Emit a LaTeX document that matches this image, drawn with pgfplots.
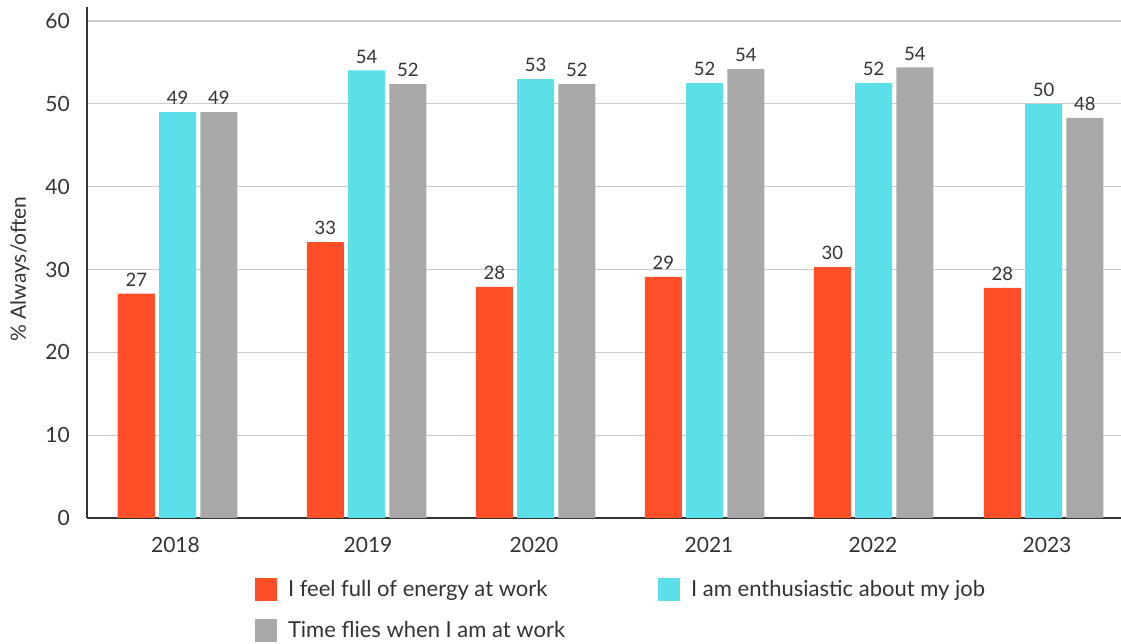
\documentclass[border=0pt]{standalone}
\usepackage{fontspec}
\setmainfont{Lato}
\usepackage{pgfplots}
\usepackage{pgfplotstable}
\pgfplotsset{compat=1.18}
\definecolor{cred}{HTML}{FF4E28}
\definecolor{ccyan}{HTML}{5BDFE8}
\definecolor{cgray}{HTML}{A8A8A8}
\definecolor{ctext}{HTML}{333333}
\definecolor{cgrid}{HTML}{CCCCCC}
\pgfplotstableread{
x y lab
177.5 27.1 27
366.5 33.3 33
535.5 27.9 28
704.5 29.1 29
873.5 30.3 30
1043.5 27.8 28
}\energy
\pgfplotstableread{
x y lab
177.5 49.0 49
366.5 54.05 54
535.5 53.0 53
704.5 52.5 52
873.5 52.5 52
1043.5 50.0 50
}\enthus
\pgfplotstableread{
x y lab
177.5 49.0 49
366.5 52.4 52
535.5 52.4 52
704.5 54.2 54
873.5 54.4 54
1043.5 48.3 48
}\timeflies
\begin{document}
\begin{tikzpicture}
\useasboundingbox (-87pt,-126pt) rectangle (1034pt,518pt);
\begin{axis}[
  scale only axis, width=1034pt, height=511pt,
  xmin=87, xmax=1121, ymin=0, ymax=61.7,
  axis x line*=bottom, axis y line*=left,
  axis line style={ctext, line width=1.6pt},
  ytick={0,10,...,60},
  ymajorgrids, grid style={cgrid, line width=1.2pt},
  xtick={175.5,368,534,709,873,1047},
  xticklabels={2018,2019,2020,2021,2022,2023},
  major tick length=0pt,
  /pgf/number format/assume math mode=true,
  tick label style={font=\fontsize{21}{21}\selectfont, text=ctext},
  yticklabel style={inner sep=0pt, anchor=east, xshift=-17pt},
  xticklabel style={inner sep=0pt, anchor=north, yshift=-19pt},
  every axis y label/.style={at={(axis description cs:0,0.487)}, xshift=-67pt, rotate=90, anchor=center, font=\fontsize{21}{21}\selectfont, text=ctext},
  ylabel={\% Always/often},
  ybar, bar width=37,
  point meta=explicit symbolic,
  nodes near coords={\pgfplotspointmeta},
  every node near coord/.append style={font=\fontsize{18.5}{18.5}\selectfont, text=ctext, inner sep=0pt, anchor=south, yshift=7pt},
  legend columns=2,
  legend style={at={(axis description cs:0,0)}, anchor=north west, xshift=168pt, yshift=-60pt, draw=none, fill=none, inner sep=0pt, outer sep=0pt, row sep=18pt, font=\fontsize{22}{22}\selectfont, text=ctext, nodes={inner sep=0pt},
    /tikz/every odd column/.append style={column sep=11pt},
    /tikz/every even column/.append style={column sep=93pt}},
  legend cell align=left,
  legend image code/.code={\fill[#1] (0pt,-11.5pt) rectangle (22pt,11.5pt);},
]
\addplot[draw=none, fill=cred, bar shift=-41.25] table[x=x, y=y, meta=lab] {\energy};
\addlegendentry{I feel full of energy at work}
\addplot[draw=none, fill=ccyan, bar shift=0] table[x=x, y=y, meta=lab] {\enthus};
\addlegendentry{I am enthusiastic about my job}
\addplot[draw=none, fill=cgray, bar shift=41.25] table[x=x, y=y, meta=lab] {\timeflies};
\addlegendentry{Time flies when I am at work}
\end{axis}
\end{tikzpicture}
\end{document}
